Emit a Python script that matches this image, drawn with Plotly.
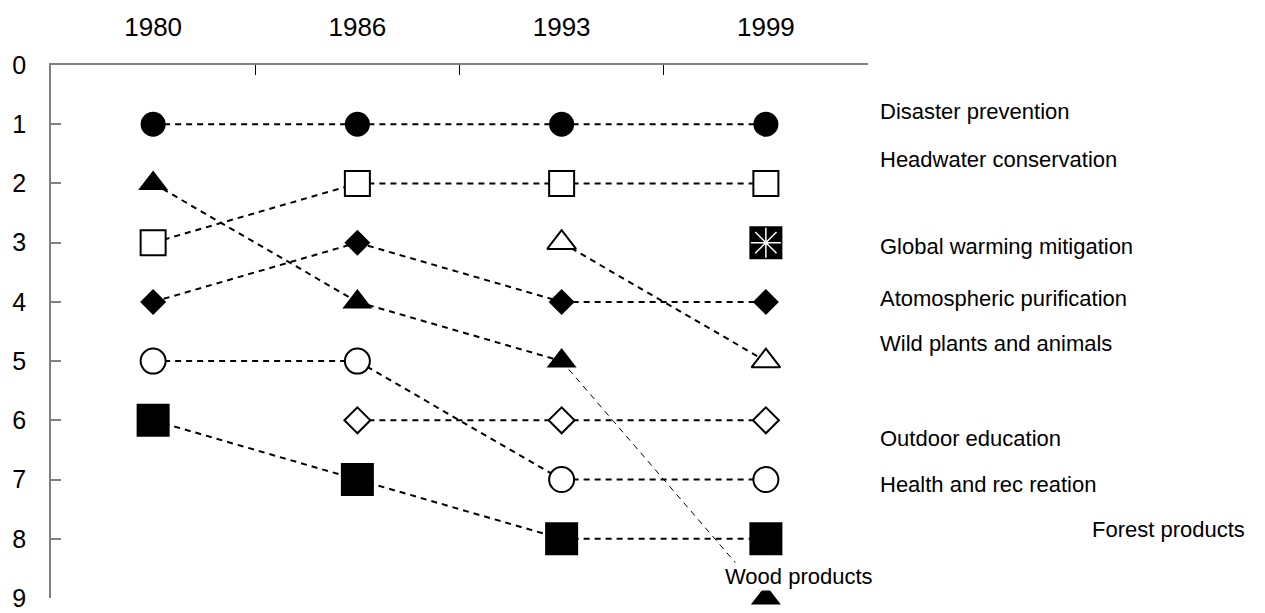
import plotly.graph_objects as go

years = ["1980", "1986", "1993", "1999"]
y_ticks = [0, 1, 2, 3, 4, 5, 6, 7, 8, 9]

disaster = [1, 1, 1, 1]
headwater = [3, 2, 2, 2]
global_warming = [None, None, None, 3]
atmospheric = [4, 3, 4, 4]
wild = [None, None, 3, 5]
outdoor = [None, 6, 6, 6]
health = [5, 5, 7, 7]
forest = [6, 7, 8, 8]
wood = [2, 4, 5, 9]

# (name, values, symbol, size, fill)
series = [
    ("Disaster prevention", disaster, "circle", 25, "black"),
    ("Headwater conservation", headwater, "square", 25, "white"),
    ("Atomospheric purification", atmospheric, "diamond", 20, "black"),
    ("Wild plants and animals", wild, "triangle-up", 25, "white"),
    ("Outdoor education", outdoor, "diamond", 20, "white"),
    ("Health and rec reation", health, "circle", 25, "white"),
    ("Forest products", forest, "square", 33, "black"),
    ("Wood products", wood, "triangle-up", 26, "black"),
]
thin_segments = {("Wood products", 2)}

# label positions (y in data units, x in paper units)
right_labels = [
    ("Disaster prevention", 0.79, 1.012),
    ("Headwater conservation", 1.59, 1.012),
    ("Global warming mitigation", 3.06, 1.012),
    ("Atomospheric purification", 3.95, 1.012),
    ("Wild plants and animals", 4.71, 1.012),
    ("Outdoor education", 6.30, 1.012),
    ("Health and rec reation", 7.08, 1.012),
    ("Forest products", 7.85, 1.272),
]

fig = go.Figure()
FONT = "Liberation Sans, Arial, sans-serif"

# line segments
for name, vals, sym, size, fill in series:
    for i in range(len(vals) - 1):
        if vals[i] is None or vals[i + 1] is None:
            continue
        w = 1 if (name, i) in thin_segments else 2
        fig.add_trace(go.Scatter(
            x=[years[i], years[i + 1]], y=[vals[i], vals[i + 1]],
            mode="lines", line=dict(color="black", width=w, dash="6px,5px"),
            hoverinfo="skip", showlegend=False, cliponaxis=False))

# markers
for name, vals, sym, size, fill in series:
    fig.add_trace(go.Scatter(
        x=years, y=vals, mode="markers", name=name, showlegend=False,
        cliponaxis=False,
        marker=dict(symbol=sym, size=size, color=fill,
                    line=dict(color="black", width=2 if fill == "white" else 0))))

# global warming mitigation: black square with white asterisk
fig.add_trace(go.Scatter(
    x=years, y=global_warming, mode="markers", showlegend=False, cliponaxis=False,
    marker=dict(symbol="square", size=33, color="black", line=dict(width=0))))
fig.add_trace(go.Scatter(
    x=years, y=global_warming, mode="markers", showlegend=False, cliponaxis=False,
    marker=dict(symbol="asterisk-open", size=25, color="white",
                line=dict(color="white", width=1.5))))

for text, yv, xp in right_labels:
    fig.add_annotation(text=text, x=xp, y=yv, xref="paper", yref="y",
                       xanchor="left", yanchor="middle", showarrow=False,
                       font=dict(family=FONT, size=22, color="black"))

fig.add_annotation(text="Wood products", x=0.916, y=8.63, xref="paper", yref="y",
                   xanchor="center", yanchor="middle", showarrow=False,
                   bgcolor="white", borderpad=1,
                   font=dict(family=FONT, size=22, color="black"))

fig.update_layout(
    width=1265, height=613,
    margin=dict(l=43, r=405, t=57, b=23, autoexpand=False),
    paper_bgcolor="white", plot_bgcolor="white",
    font=dict(family=FONT, color="black"),
    xaxis=dict(type="category", categoryorder="array", categoryarray=years,
               side="top", range=[-0.5, 3.5], tickson="boundaries",
               ticks="inside", ticklen=10, tickcolor="black", tickwidth=1,
               showline=True, linecolor="#808080", linewidth=2,
               showgrid=False, zeroline=False, automargin=False,
               tickfont=dict(family=FONT, size=26, color="black"),
               ticklabelstandoff=17),
    yaxis=dict(range=[9, 0], tickvals=y_ticks, ticks="inside", ticklen=10,
               tickcolor="#808080", tickwidth=1.5,
               showline=True, linecolor="#808080", linewidth=1.5,
               showgrid=False, zeroline=False, automargin=False,
               tickfont=dict(family=FONT, size=25, color="black"),
               ticklabelstandoff=18),
)

fig.write_html("out.html")
